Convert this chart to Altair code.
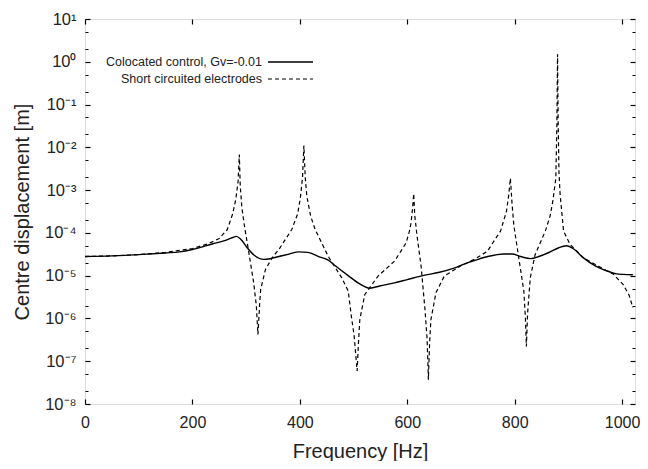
import altair as alt
import pandas as pd

series_names = ["Colocated control, Gv=-0.01", "Short circuited electrodes"]

solid_freq = [0, 50, 100, 150, 176, 200, 237, 260, 275, 282, 290, 302, 315, 333, 345,
              361, 380, 398, 415, 435, 453, 466, 490, 510, 530, 550, 576, 600, 629,
              660, 687, 712, 727, 750, 780, 795, 811, 830, 845, 866, 882, 896, 910,
              928, 950, 971, 990, 1002, 1020]
solid_disp = [2.8e-5, 2.9e-5, 3.1e-5, 3.4e-5, 3.6e-5, 4.1e-5, 5.5e-5, 6.6e-5, 7.8e-5,
              8.3e-5, 7.1e-5, 4.5e-5, 3.0e-5, 2.4e-5, 2.5e-5, 2.8e-5, 3.2e-5, 3.6e-5,
              3.5e-5, 2.8e-5, 2.3e-5, 1.7e-5, 1.0e-5, 6.6e-6, 5.1e-6, 5.8e-6, 6.8e-6,
              8.1e-6, 1.0e-5, 1.2e-5, 1.5e-5, 2.0e-5, 2.3e-5, 2.8e-5, 3.2e-5, 3.2e-5,
              2.8e-5, 2.5e-5, 2.8e-5, 3.6e-5, 4.5e-5, 5.0e-5, 4.2e-5, 2.6e-5, 1.7e-5,
              1.3e-5, 1.1e-5, 1.07e-5, 1.05e-5]

dashed_freq = [0, 50, 100, 150, 200, 230, 250, 265, 275, 281, 285, 287.3, 289, 292, 296,
               305, 314, 319, 322, 325, 327, 336, 350, 361, 385, 396, 401, 405, 407.5,
               410, 413, 420, 428.5, 453, 478, 490, 496, 501, 506.7, 509, 511.6, 520.8,
               545.6, 576.5, 598, 604, 607, 610, 612, 614, 618.3, 625.7, 633, 637, 639.3,
               641.5, 644, 653.4, 669, 699.6, 712, 727, 749, 773.6, 784.7, 789, 792, 795,
               798.4, 807.6, 817, 820, 821.8, 824, 829, 838, 857, 866, 871, 876.6, 878.5,
               879.8, 881, 882.5, 884.6, 891, 903, 928, 958.6, 983, 1002, 1013, 1020]
dashed_disp = [2.8e-5, 2.9e-5, 3.1e-5, 3.5e-5, 4.3e-5, 5.6e-5, 7.4e-5, 1.2e-4, 2.8e-4,
               6.3e-4, 1.6e-3, 6.8e-3, 1.3e-3, 4.0e-4, 1.7e-4, 3.5e-5, 6.9e-6, 2.0e-6,
               4.2e-7, 2.0e-6, 4.7e-6, 1.4e-5, 2.8e-5, 4.1e-5, 1.2e-4, 2.8e-4, 6.6e-4,
               2.0e-3, 1.1e-2, 2.0e-3, 7.2e-4, 2.5e-4, 1.2e-4, 2.8e-5, 8.9e-6, 4.4e-6,
               1.1e-6, 4.0e-7, 5.9e-8, 2.5e-7, 9.3e-7, 3.6e-6, 9.8e-6, 2.2e-5, 5.9e-5,
               1.1e-4, 1.7e-4, 4.0e-4, 8.3e-4, 2.5e-4, 8.3e-5, 1.7e-5, 1.6e-6, 3.2e-7,
               3.7e-8, 2.5e-7, 9.3e-7, 4.0e-6, 9.8e-6, 1.7e-5, 2.0e-5, 2.5e-5, 3.7e-5,
               1.1e-4, 3.2e-4, 7.9e-4, 1.9e-3, 5.0e-4, 1.5e-4, 2.6e-5, 4.4e-6, 1.0e-6,
               2.2e-7, 1.3e-6, 8.9e-6, 3.1e-5, 1.1e-4, 2.5e-4, 5.5e-4, 1.9e-3, 3.2e-2,
               1.5, 3.2e-2, 2.5e-3, 7.9e-4, 1.1e-4, 5.4e-5, 2.6e-5, 1.6e-5, 1.1e-5,
               6.2e-6, 3.5e-6, 1.8e-6]

x_ticks = [0, 200, 400, 600, 800, 1000]
y_ticks = [1e-8, 1e-7, 1e-6, 1e-5, 1e-4, 1e-3, 1e-2, 1e-1, 1e0, 1e1]
y_tick_labels = ["10⁻⁸", "10⁻⁷", "10⁻⁶", "10⁻⁵", "10⁻⁴", "10⁻³", "10⁻²", "10⁻¹", "10⁰", "10¹"]
y_minor = [m * t for t in y_ticks[:-1] for m in (2, 5)]

FONT = "Liberation Sans"
TXT = "#222"

solid_df = pd.DataFrame({"freq": solid_freq, "disp": solid_disp, "series": series_names[0]})
dashed_df = pd.DataFrame({"freq": dashed_freq, "disp": dashed_disp, "series": series_names[1]})
df = pd.concat([solid_df, dashed_df])

xscale = alt.Scale(domain=[0, 1024], nice=False, zero=False)
yscale = alt.Scale(type="log", domain=[1e-8, 10], nice=False)

label_arr = "[" + ",".join("'%s'" % s for s in y_tick_labels) + "]"
label_expr = label_arr + "[round(log(datum.value)/LN10)+8]"

x_main = alt.X("freq:Q", scale=xscale,
               axis=alt.Axis(orient="bottom", values=x_ticks, title="Frequency [Hz]", format="d",
                             domain=False, grid=False, tickSize=5, offset=-5, tickColor="black",
                             tickWidth=1.2, labelPadding=10, labelFontSize=16, labelColor=TXT,
                             titleFontSize=20, titleFontWeight="normal", titlePadding=11,
                             titleColor=TXT, labelFont=FONT, titleFont=FONT, labelFlush=False))
y_main = alt.Y("disp:Q", scale=yscale,
               axis=alt.Axis(orient="left", values=y_ticks, labelExpr=label_expr,
                             title="Centre displacement [m]", domain=False, grid=False,
                             tickSize=5, offset=-5, tickColor="black", tickWidth=1.2,
                             labelPadding=9, labelFontSize=16.5, labelColor=TXT,
                             titleFontSize=20, titleFontWeight="normal", titlePadding=12,
                             titleColor=TXT, labelFont=FONT, titleFont=FONT, labelFlush=False))

solid_line = alt.Chart(solid_df).mark_line(color="black", strokeWidth=1.4, clip=True,
                                           interpolate="monotone").encode(x=x_main, y=y_main)

dashed_line = alt.Chart(dashed_df).mark_line(color="black", strokeWidth=1.2, clip=True,
                                             strokeDash=[4, 3]).encode(
    x=alt.X("freq:Q", scale=xscale, axis=None),
    y=alt.Y("disp:Q", scale=yscale, axis=None))

mirror = alt.Chart(df).mark_line(opacity=0).encode(
    x=alt.X("freq:Q", scale=xscale,
            axis=alt.Axis(orient="top", values=x_ticks, labels=False, title=None, domain=False,
                          grid=False, tickSize=5, offset=-5, tickColor="black", tickWidth=1.2)),
    y=alt.Y("disp:Q", scale=yscale,
            axis=alt.Axis(orient="right", values=y_ticks, labels=False, title=None, domain=False,
                          grid=False, tickSize=5, offset=-5, tickColor="black", tickWidth=1.2)),
    detail="series:N",
)

minor_left = alt.Chart(df).mark_line(opacity=0).encode(
    x=alt.X("freq:Q", scale=xscale, axis=None),
    y=alt.Y("disp:Q", scale=yscale,
            axis=alt.Axis(orient="left", values=y_minor, labels=False, title=None, domain=False,
                          grid=False, tickSize=3, offset=-3, tickColor="black", tickWidth=1)),
    detail="series:N",
)
minor_right = alt.Chart(df).mark_line(opacity=0).encode(
    x=alt.X("freq:Q", scale=xscale, axis=None),
    y=alt.Y("disp:Q", scale=yscale,
            axis=alt.Axis(orient="right", values=y_minor, labels=False, title=None, domain=False,
                          grid=False, tickSize=3, offset=-3, tickColor="black", tickWidth=1)),
    detail="series:N",
)

leg_layers = []
for i, name in enumerate(series_names):
    ldf = pd.DataFrame({"label": [name]})
    ypos = 43 + 17 * i
    leg_layers.append(
        alt.Chart(ldf).mark_text(align="right", baseline="middle", font=FONT, fontSize=12.5,
                                 color=TXT).encode(
            x=alt.value(177), y=alt.value(ypos), text="label:N"))
    leg_layers.append(
        alt.Chart(ldf).mark_rule(color="black", strokeWidth=1.3 if i == 0 else 1.2,
                                 strokeDash=[1, 0] if i == 0 else [4, 3]).encode(
            x=alt.value(183), x2=alt.value(228), y=alt.value(ypos)))

chart = alt.layer(solid_line, dashed_line, mirror, minor_left, minor_right, *leg_layers).resolve_scale(
    x="shared", y="shared"
).resolve_axis(
    x="independent", y="independent"
).properties(
    width=550, height=385,
    autosize=alt.AutoSizeParams(type="none"),
    padding={"left": 77, "top": 11, "right": 5, "bottom": 57},
).configure_view(stroke="black", strokeWidth=1.8).configure(background="white")

chart.save("out.html", embed_options={"renderer": "svg", "actions": False})
